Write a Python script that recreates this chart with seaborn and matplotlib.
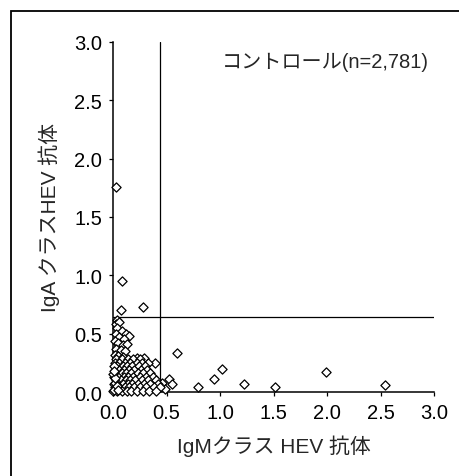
import numpy as np
import pandas as pd
import matplotlib
matplotlib.use("Agg")
import matplotlib.pyplot as plt
import seaborn as sns
from matplotlib.patches import Rectangle

# ---------------------------------
# data
# ---------------------------------
# outliers / sparse points
igm_sparse = [0.03, 0.08, 0.28, 0.07, 0.04, 0.595, 0.39, 0.29, 0.22,
              0.94, 1.02, 1.22, 1.51, 1.99, 2.54, 0.79, 0.52, 0.55,
              0.46, 0.42, 0.49]
iga_sparse = [1.76, 0.95, 0.73, 0.70, 0.62, 0.33, 0.25, 0.29, 0.29,
              0.11, 0.20, 0.07, 0.045, 0.17, 0.06, 0.04, 0.11, 0.07,
              0.08, 0.04, 0.03]

# column of points near IgM ~ 0
igm_column = [0.03, 0.06, 0.04, 0.08, 0.12, 0.15, 0.03, 0.06, 0.10, 0.02,
              0.05, 0.09, 0.13, 0.03, 0.07, 0.11, 0.02, 0.05, 0.09]
iga_column = [0.58, 0.60, 0.55, 0.52, 0.50, 0.48, 0.50, 0.47, 0.45, 0.44,
              0.42, 0.40, 0.41, 0.37, 0.36, 0.35, 0.32, 0.31, 0.30]

# dense cluster near the origin
igm_dense = [0.03, 0.08, 0.14, 0.19, 0.25,
             0.02, 0.06, 0.11, 0.16, 0.22, 0.27, 0.33,
             0.04, 0.09, 0.13, 0.18, 0.24, 0.30,
             0.02, 0.06, 0.10, 0.15, 0.20, 0.26, 0.32,
             0.03, 0.08, 0.12, 0.17, 0.23, 0.28, 0.35,
             0.01, 0.05, 0.10, 0.14, 0.19, 0.25, 0.31, 0.37,
             0.03, 0.07, 0.12, 0.16, 0.21, 0.27, 0.33, 0.40,
             0.01, 0.05, 0.09, 0.14, 0.18, 0.23, 0.29, 0.35, 0.42,
             0.02, 0.06, 0.11, 0.15, 0.20, 0.25, 0.31, 0.38, 0.44,
             0.00, 0.04, 0.08, 0.13, 0.17, 0.22, 0.28, 0.34, 0.40,
             0.01, 0.02, 0.00, 0.01, 0.04, 0.02, 0.05, 0.01]
iga_dense = [0.28, 0.28, 0.28, 0.28, 0.28,
             0.25, 0.25, 0.25, 0.25, 0.25, 0.25, 0.25,
             0.22, 0.22, 0.22, 0.22, 0.22, 0.22,
             0.19, 0.19, 0.19, 0.19, 0.19, 0.19, 0.19,
             0.16, 0.16, 0.16, 0.16, 0.16, 0.16, 0.16,
             0.13, 0.13, 0.13, 0.13, 0.13, 0.13, 0.13, 0.13,
             0.10, 0.10, 0.10, 0.10, 0.10, 0.10, 0.10, 0.10,
             0.07, 0.07, 0.07, 0.07, 0.07, 0.07, 0.07, 0.07, 0.07,
             0.04, 0.04, 0.04, 0.04, 0.04, 0.04, 0.04, 0.04, 0.04,
             0.01, 0.01, 0.01, 0.01, 0.01, 0.01, 0.01, 0.01, 0.01,
             0.02, 0.08, 0.15, 0.22, 0.05, 0.12, 0.02, 0.18]

igm_cutoff = 0.44
iga_cutoff = 0.64
ticks = [0.0, 0.5, 1.0, 1.5, 2.0, 2.5, 3.0]

df = pd.DataFrame({
    "IgM": igm_sparse + igm_column + igm_dense,
    "IgA": iga_sparse + iga_column + iga_dense,
})

# ---------------------------------
# plot
# ---------------------------------
sns.set_style("ticks")
plt.rcParams["font.family"] = ["Liberation Sans", "Noto Sans CJK JP"]

fig = plt.figure(figsize=(4.6, 4.77), dpi=100)
ax = fig.add_axes([0.2457, 0.1761, 0.6978, 0.7338])

# frame around the panel (cut off at right/bottom like the scan)
fig.patches.append(Rectangle((11 / 460, -0.1), 1.2, (477 - 12) / 477 + 0.1,
                             transform=fig.transFigure, fill=False,
                             edgecolor="black", linewidth=1.3))

ax.axvline(igm_cutoff, ymin=0, ymax=1, color="black", linewidth=0.9)
ax.axhline(iga_cutoff, xmin=0, xmax=1, color="black", linewidth=0.9)

sns.scatterplot(data=df, x="IgM", y="IgA", marker="D", s=22,
                facecolor="white", edgecolor="black", linewidth=0.9,
                clip_on=False, zorder=3, ax=ax)

ax.set_xlim(0, 3)
ax.set_ylim(0, 3)
ax.set_xticks(ticks)
ax.set_yticks(ticks)
ax.set_xticklabels([f"{t:.1f}" for t in ticks])
ax.set_yticklabels([f"{t:.1f}" for t in ticks])
ax.tick_params(axis="both", direction="out", length=3, width=0.9,
               labelsize=14.5, colors="black")
ax.tick_params(axis="y", pad=5)
ax.tick_params(axis="x", pad=5)
sns.despine(ax=ax)
for sp in ["left", "bottom"]:
    ax.spines[sp].set_linewidth(1.1)
    ax.spines[sp].set_color("black")

ax.set_xlabel("IgMクラス HEV 抗体", fontsize=15, labelpad=9)
ax.set_ylabel("IgA クラスHEV 抗体", fontsize=15, labelpad=10)

ax.text(0.985, 0.945, "コントロール(n=2,781)", transform=ax.transAxes,
        ha="right", va="center", fontsize=14.5)

fig.savefig("out.png", dpi=100)
